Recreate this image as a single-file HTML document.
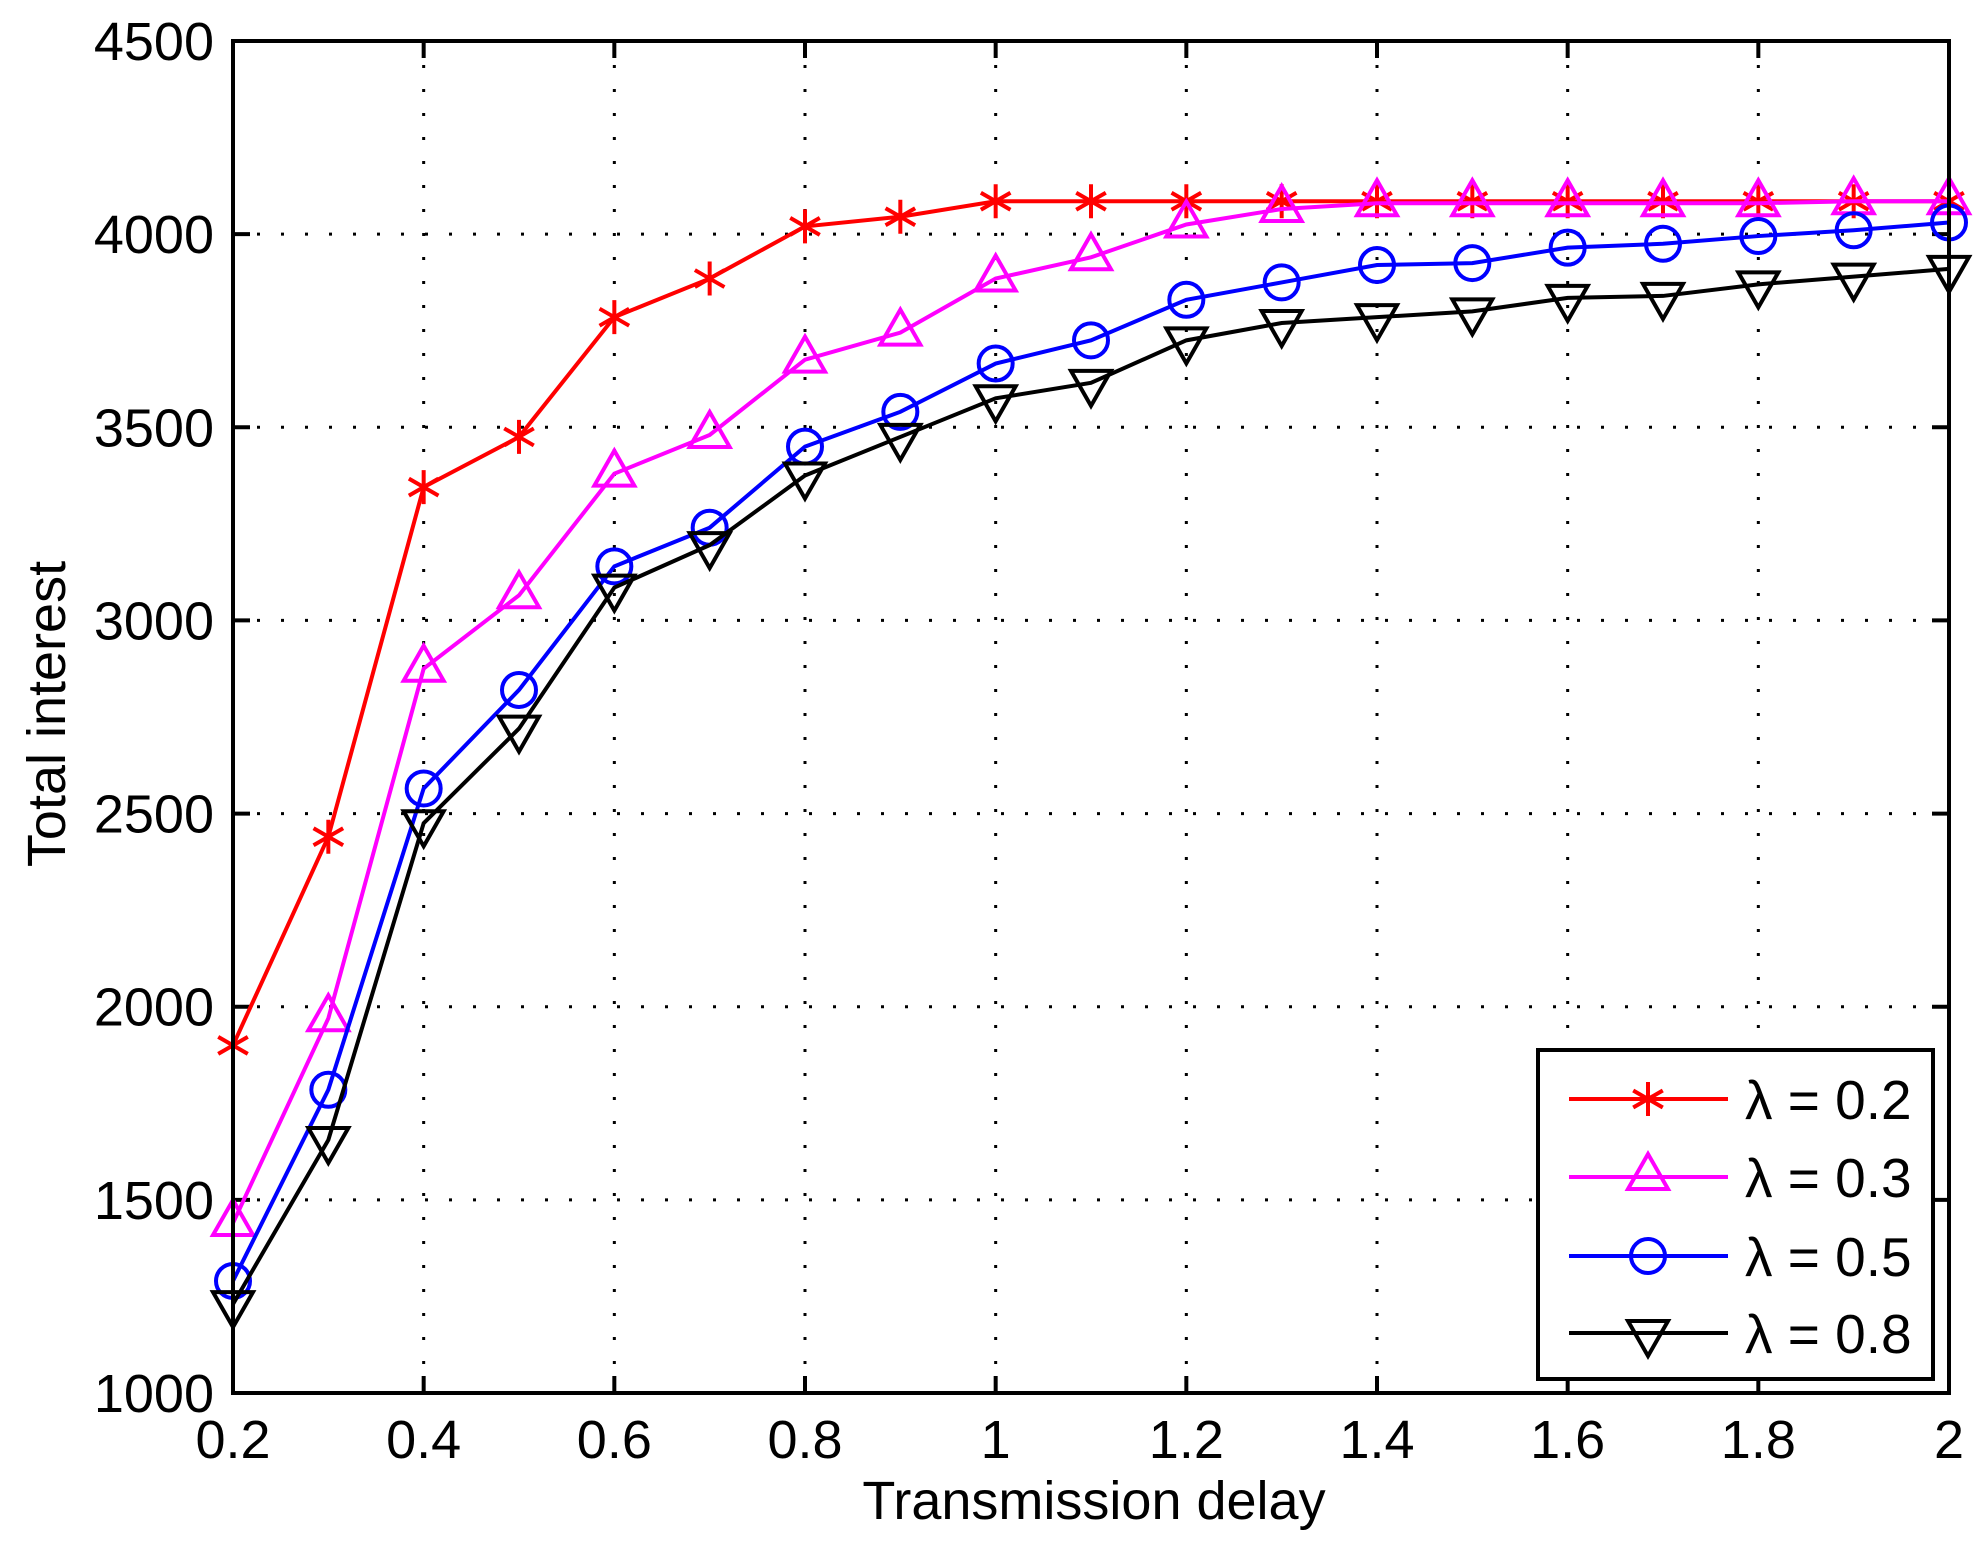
<!DOCTYPE html>
<html><head><meta charset="utf-8"><style>html,body{margin:0;padding:0;background:#fff}svg{display:block}</style></head>
<body>
<svg width="1983" height="1547" viewBox="0 0 1983 1547" xmlns="http://www.w3.org/2000/svg" font-family="Liberation Sans, Arial, sans-serif">
<rect width="1983" height="1547" fill="#fff"/>
<g id="grid" stroke="#000" stroke-width="3" stroke-dasharray="3,21"></g>
<g id="ticks" stroke="#000" stroke-width="4"></g>
<g id="series"></g>
<rect x="233" y="41" width="1716" height="1352" fill="none" stroke="#000" stroke-width="4"/>
<g id="labels" font-size="54" fill="#000"></g>
<text x="1094" y="1519" font-size="54" text-anchor="middle">Transmission delay</text>
<text transform="translate(65,714) rotate(-90)" font-size="54" text-anchor="middle">Total interest</text>
<g id="legend"></g>
<script>
var NS="http://www.w3.org/2000/svg";
function el(p,t,a){var e=document.createElementNS(NS,t);for(var k in a)e.setAttribute(k,a[k]);p.appendChild(e);return e;}
function X(x){return 233+(x-0.2)/1.8*1716;}
function Y(v){return 1393-(v-1000)*0.38629;}
var g=document.getElementById('grid'),tk=document.getElementById('ticks'),lb=document.getElementById('labels');
for(var i=0;i<=9;i++){var x=0.2+i*0.2,px=X(x);
 if(i>0&&i<9)el(g,'line',{x1:px,y1:41,x2:px,y2:1393});
 el(tk,'line',{x1:px,y1:1393,x2:px,y2:1376});el(tk,'line',{x1:px,y1:41,x2:px,y2:58});
 var t=el(lb,'text',{x:px,y:1458,'text-anchor':'middle'});t.textContent=(i==4?'1':i==9?'2':x.toFixed(1));}
for(var v=1000;v<=4500;v+=500){var py=Y(v);
 if(v>1000&&v<4500)el(g,'line',{x1:233,y1:py,x2:1949,y2:py});
 el(tk,'line',{x1:233,y1:py,x2:250,y2:py});el(tk,'line',{x1:1949,y1:py,x2:1932,y2:py});
 var t=el(lb,'text',{x:214,y:py+19,'text-anchor':'end'});t.textContent=v;}
var data=[
['#ff0000','star',[1900,2440,3345,3475,3785,3885,4020,4045,4085,4085,4085,4085,4085,4085,4085,4085,4085,4085,4085]],
['#ff00ff','tri',[1440,1970,2875,3065,3380,3480,3675,3745,3885,3940,4025,4065,4080,4080,4080,4080,4080,4085,4085]],
['#0000ff','circ',[1290,1785,2565,2820,3140,3240,3450,3540,3665,3725,3830,3875,3920,3925,3965,3975,3995,4010,4030]],
['#000000','dtri',[1230,1655,2475,2720,3085,3195,3375,3475,3575,3615,3725,3770,3785,3800,3835,3840,3870,3890,3910]]];
function marker(p,type,c,x,y){var a={fill:'none',stroke:c,'stroke-width':4};
 if(type=='star'){var r=17;el(p,'path',Object.assign({d:'M'+x+' '+(y-r)+'V'+(y+r)+'M'+(x-r*0.87)+' '+(y-r*0.5)+'L'+(x+r*0.87)+' '+(y+r*0.5)+'M'+(x-r*0.87)+' '+(y+r*0.5)+'L'+(x+r*0.87)+' '+(y-r*0.5)},a));}
 else if(type=='circ'){el(p,'circle',Object.assign({cx:x,cy:y,r:17},a));}
 else if(type=='tri'){el(p,'path',Object.assign({d:'M'+x+' '+(y-23)+'L'+(x+20)+' '+(y+12)+'L'+(x-20)+' '+(y+12)+'Z'},a));}
 else {el(p,'path',Object.assign({d:'M'+x+' '+(y+23)+'L'+(x+20)+' '+(y-12)+'L'+(x-20)+' '+(y-12)+'Z'},a));}}
var s=document.getElementById('series');
data.forEach(function(d){var pts=d[2].map(function(v,i){return X(0.2+i*0.1)+','+Y(v);});
 el(s,'polyline',{points:pts.join(' '),fill:'none',stroke:d[0],'stroke-width':4});
 d[2].forEach(function(v,i){marker(s,d[1],d[0],X(0.2+i*0.1),Y(v));});});
var L=document.getElementById('legend');
el(L,'rect',{x:1538,y:1050,width:395,height:329,fill:'#fff',stroke:'#000','stroke-width':4});
var labs=['0.2','0.3','0.5','0.8'],ys=[1099,1177,1256,1333];
data.forEach(function(d,i){var y=ys[i];
 el(L,'line',{x1:1569,y1:y,x2:1728,y2:y,stroke:d[0],'stroke-width':4});
 marker(L,d[1],d[0],1648,y);
 var t=el(L,'text',{x:1745,y:y+20,'font-size':55});t.textContent='\u03bb = '+labs[i];});
</script>
</svg>
</body></html>
